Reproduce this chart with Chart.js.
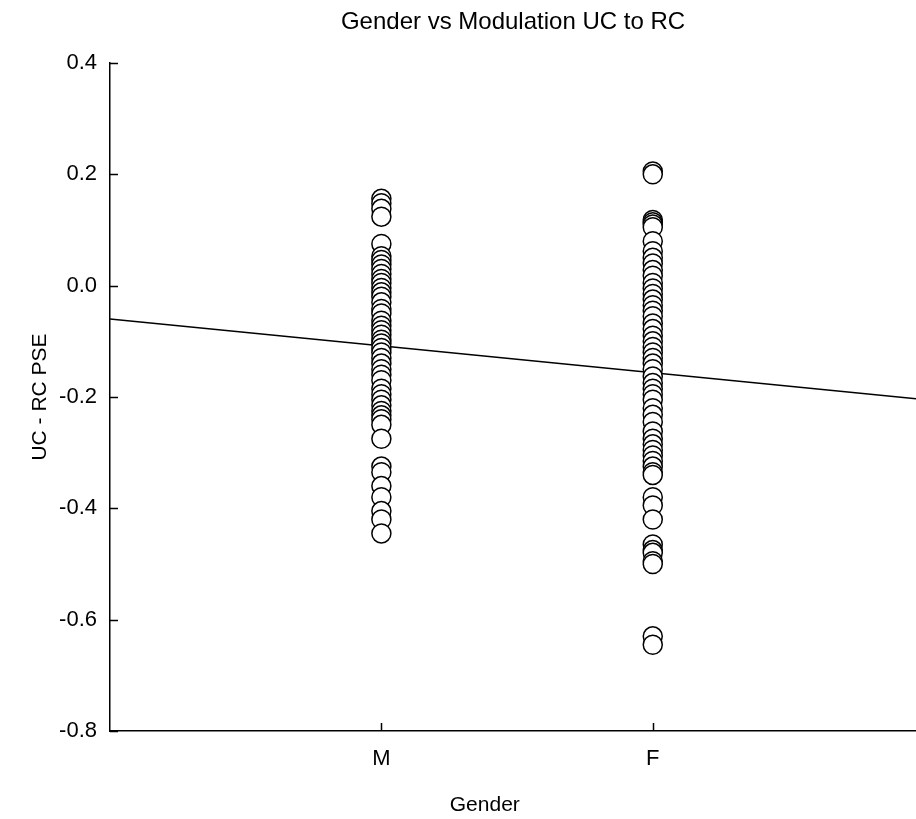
<!DOCTYPE html>
<html>
<head>
<meta charset="utf-8">
<script src="https://cdn.jsdelivr.net/npm/chart.js@4"></script>
<style>
html,body{margin:0;padding:0;background:#fff;}
#wrap{width:916px;height:819px;}
</style>
</head>
<body>
<div id="wrap"><canvas id="c" width="916" height="819"></canvas></div>
<script>
const categories = ['M', 'F'];
const categoryX = [1, 2];
const mValues = [0.156, 0.148, 0.138, 0.124, 0.075, 0.053, 0.046, 0.038, 0.030, 0.021, 0.012, 0.005, -0.004, -0.012, -0.020, -0.030, -0.042, -0.050, -0.063, -0.072, -0.080, -0.088, -0.097, -0.104, -0.112, -0.120, -0.130, -0.140, -0.150, -0.160, -0.170, -0.185, -0.195, -0.205, -0.215, -0.225, -0.233, -0.240, -0.250, -0.275, -0.325, -0.335, -0.360, -0.380, -0.405, -0.420, -0.445];
const fValues = [0.205, 0.200, 0.118, 0.114, 0.110, 0.105, 0.080, 0.062, 0.050, 0.040, 0.028, 0.018, 0.005, -0.005, -0.015, -0.025, -0.035, -0.045, -0.055, -0.068, -0.078, -0.090, -0.100, -0.110, -0.120, -0.130, -0.140, -0.150, -0.163, -0.175, -0.185, -0.195, -0.205, -0.220, -0.232, -0.245, -0.262, -0.275, -0.285, -0.295, -0.305, -0.315, -0.325, -0.335, -0.340, -0.380, -0.395, -0.420, -0.465, -0.475, -0.480, -0.495, -0.500, -0.630, -0.645];
const xRange = [0, 2.97];
const fitX = [0, 2.97];
const fitY = [-0.060, -0.203];
const yTicks = [-0.8, -0.6, -0.4, -0.2, 0.0, 0.2, 0.4];
const xAxisTitle = 'Gender';

const scatterData = [];
mValues.forEach(v => scatterData.push({x: categoryX[0], y: v}));
fValues.forEach(v => scatterData.push({x: categoryX[1], y: v}));
const fitData = fitX.map((x, i) => ({x: x, y: fitY[i]}));

const FONT = 'Liberation Sans, Arial, sans-serif';

const axisDecor = {
  id: 'axisDecor',
  afterDatasetsDraw(chart) {
    const ctx = chart.ctx, a = chart.chartArea;
    const xs = chart.scales.x, ys = chart.scales.y;
    ctx.save();
    ctx.strokeStyle = '#000';
    ctx.lineWidth = 1.5;
    ctx.beginPath();
    yTicks.forEach(t => {
      const py = Math.round(ys.getPixelForValue(t)) + 0.5;
      ctx.moveTo(a.left, py); ctx.lineTo(a.left + 8, py);
    });
    categoryX.forEach(t => {
      const px = Math.round(xs.getPixelForValue(t)) + 0.5;
      ctx.moveTo(px, a.bottom); ctx.lineTo(px, a.bottom - 8);
    });
    ctx.stroke();
    // x-axis title (sits slightly left of the axis centre in the original)
    ctx.fillStyle = '#000';
    ctx.font = '21px ' + FONT;
    ctx.textAlign = 'center';
    ctx.textBaseline = 'middle';
    ctx.fillText(xAxisTitle, a.left + (a.right - a.left) * 0.465, 805);
    ctx.restore();
  }
};

new Chart(document.getElementById('c'), {
  type: 'scatter',
  data: {
    datasets: [
      {
        type: 'line',
        data: fitData,
        borderColor: '#000',
        borderWidth: 1.5,
        pointRadius: 0,
        fill: false,
        order: 2
      },
      {
        data: scatterData,
        pointRadius: 9.5,
        pointHoverRadius: 9.5,
        pointBackgroundColor: '#fff',
        pointBorderColor: '#000',
        pointBorderWidth: 1.5,
        order: 1
      }
    ]
  },
  options: {
    responsive: false,
    animation: false,
    events: [],
    layout: {autoPadding: false, padding: {left: 0, right: 0, top: 0, bottom: 0}},
    plugins: {
      legend: {display: false},
      tooltip: {enabled: false},
      title: {
        display: true,
        text: 'Gender vs Modulation UC to RC',
        fullSize: false,
        color: '#000',
        font: {family: FONT, size: 24, weight: 'normal'},
        padding: {top: 7.6, bottom: 26.6}
      }
    },
    scales: {
      x: {
        type: 'linear',
        min: xRange[0], max: xRange[1],
        afterBuildTicks: s => { s.ticks = categoryX.map(v => ({value: v})); },
        afterFit: s => { s.height = 88; s.paddingLeft = 0; s.paddingRight = 0; },
        grid: {display: true, drawOnChartArea: false, drawTicks: false},
        border: {display: true, color: '#000', width: 1.5},
        ticks: {
          color: '#000', padding: 15,
          font: {family: FONT, size: 22},
          callback: v => categories[categoryX.indexOf(v)] || ''
        },
        title: {display: false}
      },
      y: {
        min: -0.8, max: 0.4,
        afterBuildTicks: s => { s.ticks = yTicks.map(v => ({value: v})); },
        afterFit: s => { s.width = 110; s.paddingTop = 0; s.paddingBottom = 0; },
        grid: {display: true, drawOnChartArea: false, drawTicks: false},
        border: {display: true, color: '#000', width: 1.5},
        ticks: {
          color: '#000', padding: 13,
          font: {family: FONT, size: 22},
          callback: v => v.toFixed(1).replace('-0.0', '0.0')
        },
        title: {
          display: true, text: 'UC - RC PSE', color: '#000',
          font: {family: FONT, size: 21},
          padding: {top: 27.4, bottom: 0}
        }
      }
    }
  },
  plugins: [axisDecor]
});
</script>
</body>
</html>
